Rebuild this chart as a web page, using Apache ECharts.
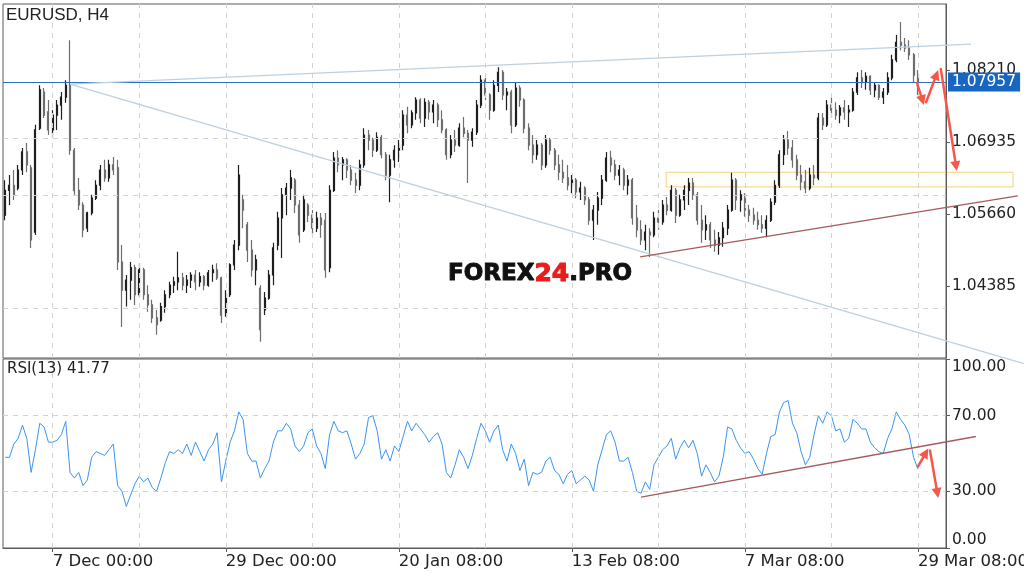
<!DOCTYPE html>
<html>
<head>
<meta charset="utf-8">
<title>EURUSD, H4</title>
<script src="https://cdn.jsdelivr.net/npm/echarts@6.0.0/dist/echarts.min.js"></script>
<style>
  html, body { margin: 0; padding: 0; background: #fff; }
  #chart { width: 1024px; height: 577px; }
</style>
</head>
<body>
<div id="chart"></div>
<script>
// EURUSD H4 bars, each entry [open, close, low, high]
const candles = [
  [1.0564,1.0608,1.0555,1.0626],[1.0608,1.0617,1.0582,1.0635],[1.0617,1.0600,1.0591,1.0644],[1.0612,1.0644,1.0608,1.0653],
  [1.0644,1.0676,1.0635,1.0683],[1.0676,1.0653,1.0640,1.0692],[1.0648,1.0520,1.0506,1.0653],[1.0534,1.0715,1.0529,1.0724],
  [1.0718,1.0786,1.0715,1.0794],[1.0782,1.0741,1.0736,1.0789],[1.0747,1.0715,1.0706,1.0768],[1.0715,1.0741,1.0701,1.0750],
  [1.0741,1.0759,1.0715,1.0768],[1.0759,1.0773,1.0733,1.0782],[1.0773,1.0794,1.0763,1.0803],[1.0794,1.0679,1.0671,1.0874],
  [1.0679,1.0608,1.0600,1.0683],[1.0608,1.0582,1.0573,1.0630],[1.0582,1.0538,1.0525,1.0587],[1.0541,1.0568,1.0534,1.0570],
  [1.0568,1.0594,1.0564,1.0600],[1.0594,1.0617,1.0591,1.0626],[1.0617,1.0644,1.0608,1.0653],[1.0644,1.0630,1.0623,1.0662],
  [1.0630,1.0653,1.0623,1.0662],[1.0653,1.0644,1.0635,1.0667],[1.0648,1.0481,1.0467,1.0662],[1.0481,1.0431,1.0366,1.0511],
  [1.0431,1.0449,1.0402,1.0458],[1.0449,1.0471,1.0414,1.0481],[1.0471,1.0423,1.0405,1.0476],[1.0423,1.0467,1.0419,1.0479],
  [1.0467,1.0423,1.0414,1.0471],[1.0423,1.0405,1.0393,1.0440],[1.0405,1.0382,1.0373,1.0414],[1.0382,1.0370,1.0352,1.0396],
  [1.0378,1.0402,1.0375,1.0409],[1.0402,1.0423,1.0391,1.0431],[1.0423,1.0440,1.0417,1.0446],[1.0440,1.0446,1.0426,1.0455],
  [1.0446,1.0453,1.0431,1.0499],[1.0453,1.0440,1.0431,1.0462],[1.0440,1.0449,1.0426,1.0458],[1.0449,1.0458,1.0435,1.0463],
  [1.0458,1.0446,1.0431,1.0467],[1.0446,1.0455,1.0437,1.0463],[1.0455,1.0440,1.0431,1.0458],[1.0440,1.0462,1.0437,1.0467],
  [1.0462,1.0467,1.0446,1.0476],[1.0467,1.0453,1.0449,1.0479],[1.0453,1.0387,1.0373,1.0455],[1.0387,1.0423,1.0384,1.0431],
  [1.0423,1.0476,1.0419,1.0479],[1.0476,1.0511,1.0467,1.0520],[1.0511,1.0635,1.0502,1.0653],[1.0591,1.0573,1.0541,1.0600],
  [1.0547,1.0502,1.0481,1.0552],[1.0502,1.0467,1.0455,1.0520],[1.0467,1.0485,1.0440,1.0494],[1.0435,1.0361,1.0340,1.0440],
  [1.0396,1.0417,1.0387,1.0428],[1.0417,1.0458,1.0414,1.0467],[1.0458,1.0506,1.0440,1.0515],[1.0511,1.0559,1.0502,1.0570],
  [1.0559,1.0600,1.0488,1.0612],[1.0600,1.0612,1.0564,1.0621],[1.0612,1.0630,1.0591,1.0644],[1.0626,1.0582,1.0568,1.0630],
  [1.0582,1.0529,1.0515,1.0591],[1.0538,1.0591,1.0534,1.0600],[1.0582,1.0564,1.0552,1.0585],[1.0564,1.0541,1.0529,1.0573],
  [1.0541,1.0559,1.0534,1.0570],[1.0559,1.0547,1.0524,1.0568],[1.0555,1.0467,1.0453,1.0568],[1.0471,1.0608,1.0463,1.0617],
  [1.0608,1.0665,1.0605,1.0676],[1.0665,1.0653,1.0640,1.0679],[1.0653,1.0662,1.0626,1.0667],[1.0662,1.0644,1.0630,1.0665],
  [1.0644,1.0626,1.0617,1.0653],[1.0626,1.0617,1.0603,1.0639],[1.0617,1.0653,1.0608,1.0662],[1.0653,1.0706,1.0648,1.0718],
  [1.0706,1.0697,1.0679,1.0715],[1.0697,1.0679,1.0667,1.0701],[1.0679,1.0702,1.0676,1.0711],[1.0702,1.0671,1.0665,1.0706],
  [1.0671,1.0635,1.0626,1.0676],[1.0635,1.0662,1.0587,1.0671],[1.0662,1.0679,1.0648,1.0688],[1.0679,1.0688,1.0658,1.0697],
  [1.0688,1.0741,1.0679,1.0750],[1.0741,1.0724,1.0709,1.0756],[1.0724,1.0745,1.0718,1.0750],[1.0745,1.0768,1.0733,1.0773],
  [1.0768,1.0736,1.0727,1.0771],[1.0736,1.0764,1.0720,1.0771],[1.0764,1.0747,1.0733,1.0768],[1.0747,1.0759,1.0727,1.0768],
  [1.0759,1.0733,1.0720,1.0763],[1.0733,1.0715,1.0709,1.0750],[1.0715,1.0671,1.0662,1.0718],[1.0671,1.0697,1.0665,1.0706],
  [1.0697,1.0688,1.0676,1.0715],[1.0688,1.0718,1.0685,1.0727],[1.0718,1.0709,1.0702,1.0738],[1.0709,1.0697,1.0621,1.0715],
  [1.0697,1.0711,1.0685,1.0718],[1.0711,1.0759,1.0706,1.0768],[1.0759,1.0803,1.0754,1.0812],[1.0803,1.0777,1.0768,1.0807],
  [1.0777,1.0750,1.0733,1.0780],[1.0750,1.0794,1.0747,1.0803],[1.0794,1.0817,1.0782,1.0826],[1.0817,1.0777,1.0768,1.0821],
  [1.0777,1.0782,1.0750,1.0789],[1.0782,1.0724,1.0709,1.0786],[1.0724,1.0789,1.0720,1.0798],[1.0789,1.0768,1.0756,1.0794],
  [1.0768,1.0718,1.0709,1.0771],[1.0718,1.0688,1.0679,1.0727],[1.0688,1.0671,1.0656,1.0706],[1.0671,1.0688,1.0662,1.0697],
  [1.0688,1.0653,1.0644,1.0692],[1.0653,1.0697,1.0648,1.0706],[1.0697,1.0679,1.0671,1.0701],[1.0679,1.0653,1.0644,1.0683],
  [1.0653,1.0640,1.0626,1.0671],[1.0640,1.0630,1.0621,1.0662],[1.0630,1.0617,1.0608,1.0653],[1.0617,1.0626,1.0603,1.0635],
  [1.0626,1.0605,1.0594,1.0630],[1.0605,1.0612,1.0591,1.0623],[1.0612,1.0591,1.0582,1.0615],[1.0591,1.0555,1.0547,1.0596],
  [1.0555,1.0573,1.0520,1.0582],[1.0573,1.0594,1.0547,1.0605],[1.0594,1.0626,1.0582,1.0635],[1.0626,1.0665,1.0623,1.0676],
  [1.0665,1.0653,1.0640,1.0678],[1.0653,1.0635,1.0626,1.0662],[1.0635,1.0644,1.0617,1.0653],[1.0644,1.0617,1.0608,1.0648],
  [1.0617,1.0626,1.0600,1.0635],[1.0626,1.0559,1.0547,1.0630],[1.0559,1.0538,1.0525,1.0582],[1.0538,1.0520,1.0511,1.0555],
  [1.0520,1.0534,1.0502,1.0547],[1.0534,1.0529,1.0490,1.0541],[1.0529,1.0559,1.0525,1.0570],[1.0559,1.0552,1.0538,1.0573],
  [1.0552,1.0582,1.0547,1.0591],[1.0582,1.0573,1.0564,1.0596],[1.0573,1.0608,1.0570,1.0617],[1.0608,1.0564,1.0550,1.0612],
  [1.0564,1.0591,1.0561,1.0600],[1.0591,1.0608,1.0573,1.0617],[1.0608,1.0621,1.0582,1.0630],[1.0621,1.0600,1.0591,1.0630],
  [1.0600,1.0555,1.0547,1.0605],[1.0555,1.0538,1.0515,1.0582],[1.0538,1.0547,1.0520,1.0564],[1.0547,1.0520,1.0506,1.0552],
  [1.0520,1.0511,1.0499,1.0538],[1.0511,1.0524,1.0494,1.0534],[1.0524,1.0541,1.0508,1.0552],[1.0541,1.0573,1.0529,1.0582],
  [1.0573,1.0626,1.0570,1.0639],[1.0626,1.0591,1.0573,1.0630],[1.0591,1.0600,1.0570,1.0608],[1.0600,1.0573,1.0561,1.0603],
  [1.0573,1.0564,1.0552,1.0582],[1.0564,1.0555,1.0547,1.0577],[1.0555,1.0547,1.0538,1.0570],[1.0547,1.0541,1.0533,1.0564],
  [1.0541,1.0555,1.0525,1.0564],[1.0555,1.0587,1.0552,1.0594],[1.0587,1.0617,1.0582,1.0626],[1.0617,1.0671,1.0612,1.0679],
  [1.0671,1.0697,1.0653,1.0706],[1.0697,1.0683,1.0671,1.0713],[1.0683,1.0662,1.0648,1.0697],[1.0662,1.0635,1.0626,1.0671],
  [1.0635,1.0623,1.0608,1.0653],[1.0623,1.0612,1.0603,1.0644],[1.0612,1.0635,1.0608,1.0648],[1.0635,1.0630,1.0617,1.0653],
  [1.0630,1.0736,1.0626,1.0745],[1.0736,1.0724,1.0715,1.0745],[1.0724,1.0759,1.0720,1.0768],[1.0759,1.0750,1.0736,1.0773],
  [1.0750,1.0741,1.0733,1.0764],[1.0741,1.0754,1.0727,1.0759],[1.0754,1.0747,1.0733,1.0768],[1.0747,1.0750,1.0720,1.0759],
  [1.0750,1.0782,1.0747,1.0789],[1.0782,1.0807,1.0777,1.0817],[1.0807,1.0800,1.0789,1.0821],[1.0800,1.0810,1.0786,1.0817],
  [1.0810,1.0786,1.0777,1.0812],[1.0786,1.0794,1.0773,1.0800],[1.0794,1.0773,1.0768,1.0796],[1.0773,1.0782,1.0761,1.0789],
  [1.0782,1.0807,1.0777,1.0817],[1.0807,1.0839,1.0803,1.0848],[1.0839,1.0870,1.0835,1.0883],[1.0870,1.0865,1.0856,1.0906],
  [1.0865,1.0860,1.0853,1.0878],[1.0860,1.0848,1.0839,1.0874],[1.0848,1.0812,1.0800,1.0851],[1.0812,1.07957,1.0777,1.0821]
]

// RSI(13) per bar
const rsi = [
  48,48,55,58,65,58,40,52,66,64, 56,56,57,60,67,40,37,40,33,36,
  48,51,50,49,52,55,33,30,22,28, 34,38,35,37,32,30,37,45,51,50,
  52,50,55,49,56,51,46,52,55,61, 35,46,56,62,72,68,50,46,46,37,
  42,46,56,62,62,66,63,54,51,54, 61,63,54,50,42,60,67,62,61,62,
  55,47,50,55,69,70,62,47,52,46, 54,51,59,67,62,66,63,60,56,59,
  61,55,40,37,44,52,48,42,49,58, 66,62,56,62,65,52,46,55,50,41,
  47,33,40,39,40,46,48,41,39,34, 39,41,34,36,38,36,30,44,52,60,
  62,56,46,46,48,40,30,29,35,31, 44,48,52,54,58,47,53,57,53,57,
  50,38,44,40,35,38,48,64,63,57, 53,50,51,47,42,39,50,59,60,72,
  77,78,66,61,51,44,48,60,70,66, 72,70,62,63,56,58,68,66,63,63,
  56,53,51,50,58,63,72,68,65,60, 48,41.77
]

const lastPrice = 1.07957
const priceTicks = [1.04385, 1.0566, 1.06935, 1.0821]
const rsiTicks = [0, 30, 70, 100]
const rsiLevels = [30, 70]
const barSlots = 218
const gridIdx = [11, 31, 51, 71, 91, 111, 131, 151, 171, 191, 211]
const labelIdx = [11, 51, 91, 131, 171, 211]
const tickLabels = ['7 Dec 00:00', '29 Dec 00:00', '20 Jan 08:00', '13 Feb 08:00', '7 Mar 08:00', '29 Mar 08:00']

// drawn annotations, in [bar index, value] of their pane
const trendLines = [
  { grid: 0, from: [15, 1.0796], to: [223.3, 1.0867], color: '#bcd0e0' },
  { grid: 0, from: [15, 1.0796], to: [235.5, 1.0301], color: '#bcd0e0' },
  { grid: 0, from: [146.8, 1.0490], to: [234.1, 1.0598], color: '#a65a5a' },
  { grid: 1, from: [147, 26.9], to: [224.4, 59], color: '#a65a5a' }
]
const arrows = [
  { grid: 0, from: [210.8, 1.0798], to: [212.4, 1.0759] },
  { grid: 0, from: [212.9, 1.0764], to: [215.7, 1.0821] },
  { grid: 0, from: [216.3, 1.0823], to: [220.0, 1.0642] },
  { grid: 1, from: [211.0, 43.1], to: [213.4, 52.6] },
  { grid: 1, from: [213.8, 51.6], to: [215.7, 26.5] }
]
const zone = { grid: 0, from: [152.8, 1.0640], to: [233.0, 1.0614] }

const cats = Array.from({ length: barSlots }, (_, i) => String(i))
const font = 'DejaVu Sans'
const gridLine = { type: [5, 5], color: '#d2d2d2', width: 1 }

const chart = echarts.init(document.getElementById('chart'))

const option = {
  animation: false,
  backgroundColor: '#fff',
  title: [
    { text: 'EURUSD, H4', left: 6, top: 7, padding: 0,
      textStyle: { fontFamily: 'Liberation Sans', fontSize: 17, fontWeight: 'normal', color: '#222' } },
    { text: 'RSI(13) 41.77', left: 7, top: 362, padding: 0,
      textStyle: { fontFamily: font, fontSize: 15, fontWeight: 'normal', color: '#222' } }
  ],
  grid: [
    { left: 3, right: 78, top: 4, height: 354, show: true, borderColor: '#5a5a5a', borderWidth: 1, outerBoundsMode: 'none' },
    { left: 3, right: 78, top: 359, height: 189, show: true, borderColor: '#5a5a5a', borderWidth: 1, outerBoundsMode: 'none' }
  ],
  xAxis: [
    { type: 'category', gridIndex: 0, data: cats, boundaryGap: true,
      axisLine: { show: false }, axisTick: { show: false }, axisLabel: { show: false }, splitLine: { show: false } },
    { type: 'category', gridIndex: 1, data: cats, boundaryGap: true,
      axisLine: { show: true, lineStyle: { color: '#5a5a5a' } },
      axisTick: { show: true, alignWithLabel: true, length: 4, interval: i => labelIdx.includes(i), lineStyle: { color: '#5a5a5a' } },
      axisLabel: {
        interval: i => labelIdx.includes(i),
        formatter: (v, i) => tickLabels[labelIdx.indexOf(i)],
        align: 'left', margin: 5, color: '#222', fontFamily: font, fontSize: 16.5
      },
      splitLine: { show: false } }
  ],
  yAxis: [
    { type: 'value', gridIndex: 0, position: 'right', min: 1.0311, max: 1.0938,
      splitLine: { show: false },
      axisLine: { show: true, lineStyle: { color: '#5a5a5a' } },
      axisTick: { show: true, length: 4, customValues: priceTicks, lineStyle: { color: '#5a5a5a' } },
      axisLabel: { customValues: priceTicks, formatter: v => v.toFixed(5), margin: 6,
        color: '#222', fontFamily: font, fontSize: 15.5 } },
    { type: 'value', gridIndex: 1, position: 'right', min: 0, max: 100,
      splitLine: { show: false },
      axisLine: { show: true, lineStyle: { color: '#5a5a5a' } },
      axisTick: { show: true, length: 4, customValues: rsiTicks, lineStyle: { color: '#5a5a5a' } },
      axisLabel: { customValues: rsiTicks, formatter: v => v.toFixed(2), margin: 6,
        verticalAlignMinLabel: 'bottom', verticalAlignMaxLabel: 'top',
        color: '#222', fontFamily: font, fontSize: 15.5 } }
  ],
  series: [
    {
      // dashed grid of the price pane
      type: 'line', xAxisIndex: 0, yAxisIndex: 0, data: [], z: 1,
      markLine: {
        silent: true, symbol: ['none', 'none'], label: { show: false }, lineStyle: gridLine,
        data: [...gridIdx.map(i => ({ xAxis: i })), ...priceTicks.map(v => ({ yAxis: v }))]
      }
    },
    {
      type: 'candlestick', xAxisIndex: 0, yAxisIndex: 0, data: candles, barWidth: 1.5, z: 3,
      itemStyle: { color: '#1e1e1e', color0: '#6e6e6e', borderColor: '#1e1e1e', borderColor0: '#6e6e6e', borderWidth: 1.2 },
      markLine: {
        silent: true, symbol: ['none', 'none'],
        data: [{
          yAxis: lastPrice,
          lineStyle: { type: 'solid', color: '#2c6fc0', width: 1 },
          label: { show: true, position: 'end', distance: 2, formatter: lastPrice.toFixed(5),
            color: '#fff', backgroundColor: '#1766c2', padding: [2, 4, 1, 4], fontFamily: font, fontSize: 15.5 }
        }]
      }
    },
    {
      // dashed grid of the RSI pane
      type: 'line', xAxisIndex: 1, yAxisIndex: 1, data: [], z: 1,
      markLine: {
        silent: true, symbol: ['none', 'none'], label: { show: false }, lineStyle: gridLine,
        data: [...gridIdx.map(i => ({ xAxis: i })), ...rsiLevels.map(v => ({ yAxis: v }))]
      }
    },
    {
      type: 'line', xAxisIndex: 1, yAxisIndex: 1, data: rsi, z: 3,
      showSymbol: false, lineStyle: { color: '#3a94f2', width: 1 }
    }
  ]
}

chart.setOption(option)

// pixel of a [bar index, value] pair, fractional index allowed
function toPx(grid, idx, val) {
  const a = chart.convertToPixel({ gridIndex: grid }, [0, val])
  const b = chart.convertToPixel({ gridIndex: grid }, [100, val])
  return [a[0] + (b[0] - a[0]) * idx / 100, a[1]]
}

const red = '#f4584b'
const elements = []

trendLines.forEach(t => {
  const p0 = toPx(t.grid, t.from[0], t.from[1])
  const p1 = toPx(t.grid, t.to[0], t.to[1])
  elements.push({ type: 'line', z: 40, shape: { x1: p0[0], y1: p0[1], x2: p1[0], y2: p1[1] },
    style: { stroke: t.color, lineWidth: 1.3 } })
})

const z0 = toPx(zone.grid, zone.from[0], zone.from[1])
const z1 = toPx(zone.grid, zone.to[0], zone.to[1])
elements.push({ type: 'rect', z: 0, shape: { x: z0[0], y: z0[1], width: z1[0] - z0[0], height: z1[1] - z0[1] },
  style: { fill: 'rgba(255, 248, 220, 0.15)', stroke: '#f2d27c', lineWidth: 1 } })

arrows.forEach(a => {
  const p0 = toPx(a.grid, a.from[0], a.from[1])
  const p1 = toPx(a.grid, a.to[0], a.to[1])
  const dx = p1[0] - p0[0], dy = p1[1] - p0[1]
  const len = Math.hypot(dx, dy)
  const ux = dx / len, uy = dy / len
  const bx = p1[0] - ux * 10, by = p1[1] - uy * 10
  elements.push({ type: 'line', z: 60, shape: { x1: p0[0], y1: p0[1], x2: bx + ux * 2, y2: by + uy * 2 },
    style: { stroke: red, lineWidth: 2.5, lineCap: 'round' } })
  elements.push({ type: 'polygon', z: 60,
    shape: { points: [[p1[0], p1[1]], [bx - uy * 5, by + ux * 5], [bx + uy * 5, by - ux * 5]] },
    style: { fill: red } })
})

elements.push({
  type: 'text', z: 50, x: 448, y: 274,
  style: {
    text: '{a|FOREX}{b|24}{a|.PRO}', verticalAlign: 'middle', align: 'left',
    rich: {
      a: { fontFamily: font, fontWeight: 'bold', fontSize: 23, fill: '#111', stroke: '#111', lineWidth: 1 },
      b: { fontFamily: font, fontWeight: 'bold', fontSize: 25, fill: '#ea1c1c', stroke: '#ea1c1c', lineWidth: 1 }
    }
  }
})

chart.setOption({ graphic: { elements } })
</script>
</body>
</html>
